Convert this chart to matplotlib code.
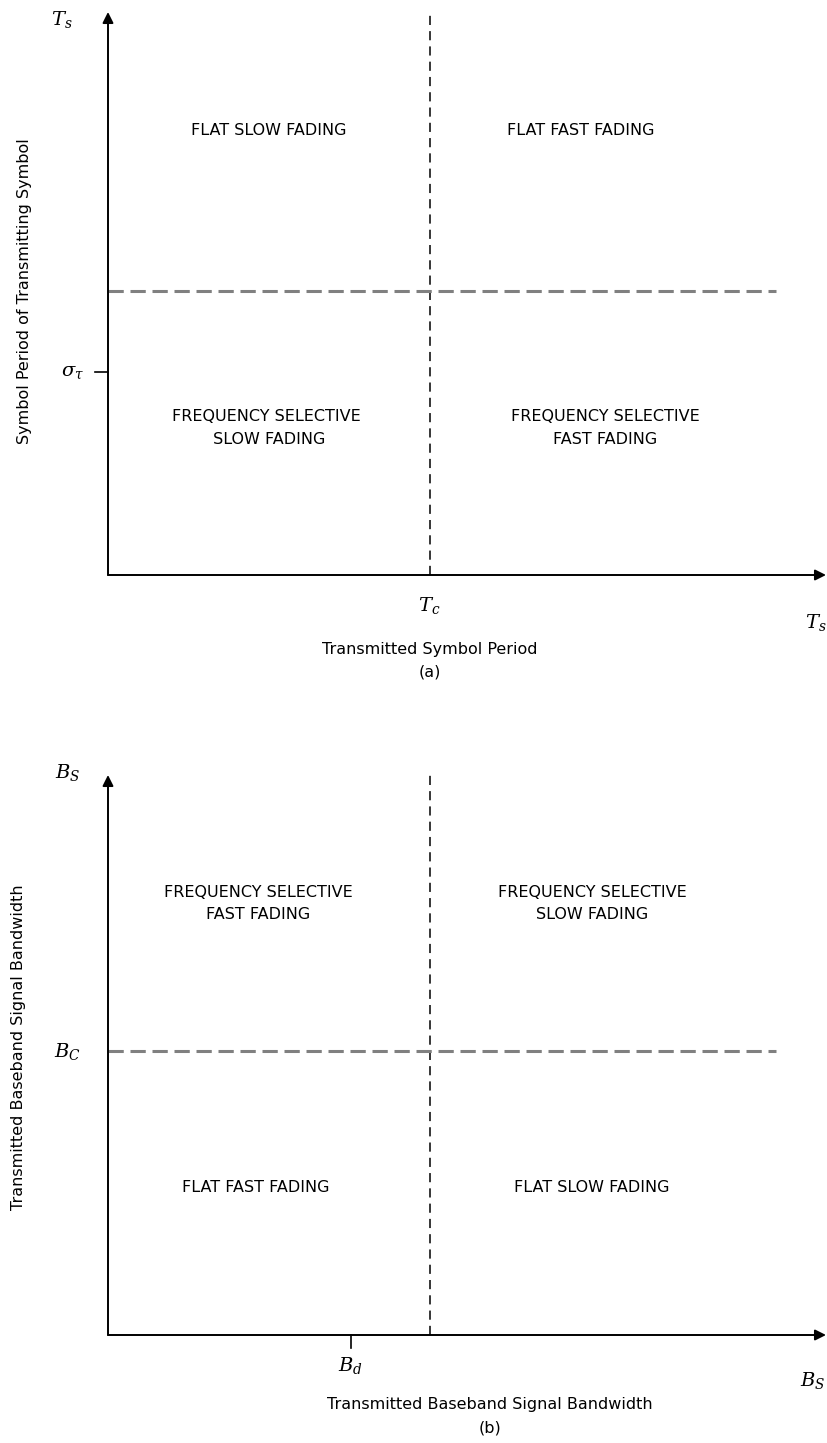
import matplotlib
matplotlib.use('Agg')
import matplotlib.pyplot as plt

plt.rcParams['font.family'] = ['DejaVu Sans']
plt.rcParams['mathtext.fontset'] = 'dejavuserif'

# region boundaries (axis units 0..10)
a_vline = 4.48
a_hline = 5.04
a_tick_y = 3.61
b_vline = 4.48
b_hline = 5.07
b_tick_x = 3.38

a_regions = ['FLAT SLOW FADING', 'FLAT FAST FADING',
             'FREQUENCY SELECTIVE\n SLOW FADING', 'FREQUENCY SELECTIVE\nFAST FADING']
a_region_xy = [(2.24, 7.9), (6.59, 7.9), (2.21, 2.61), (6.93, 2.61)]
b_regions = ['FREQUENCY SELECTIVE\nFAST FADING', 'FREQUENCY SELECTIVE\nSLOW FADING',
             'FLAT FAST FADING', 'FLAT SLOW FADING']
b_region_xy = [(2.09, 7.71), (6.74, 7.71), (2.06, 2.63), (6.74, 2.63)]

a_labels = dict(xlab='Transmitted Symbol Period', ylab='Symbol Period of Transmitting Symbol',
                tag='(a)', ytop=r'$T_s$', xend=r'$T_s$', vlab=r'$T_c$', tlab=r'$\sigma_\tau$')
b_labels = dict(xlab='Transmitted Baseband Signal Bandwidth', ylab='Transmitted Baseband Signal Bandwidth',
                tag='(b)', ytop=r'$B_S$', xend=r'$B_S$', hlab=r'$B_C$', tlab=r'$B_d$')

W, H = 827, 1443
fig = plt.figure(figsize=(W / 100, H / 100), dpi=100)


def fx(px):
    return px / W


def fy(py):
    return 1 - py / H


def axes_frame(ax):
    ax.set_xlim(0, 10)
    ax.set_ylim(0, 10)
    ax.axis('off')
    ax.annotate('', xy=(10, 0), xytext=(0, 0), annotation_clip=False,
                arrowprops=dict(arrowstyle='-|>', color='black', lw=1.4,
                                mutation_scale=16, shrinkA=0, shrinkB=0))
    ax.annotate('', xy=(0, 10), xytext=(0, 0), annotation_clip=False,
                arrowprops=dict(arrowstyle='-|>', color='black', lw=1.4,
                                mutation_scale=16, shrinkA=0, shrinkB=0))


# ---- panel (a)
axa = fig.add_axes([fx(108), fy(575), fx(826 - 108), (575 - 12) / H])
axes_frame(axa)
axa.plot([a_vline, a_vline], [0, 10], color='black', lw=1.1, ls=(0, (6, 4)), clip_on=False)
axa.plot([0, 9.3], [a_hline, a_hline], color='#808080', lw=2.2, ls=(0, (5, 2.2)), clip_on=False)
axa.plot([-0.18, 0], [a_tick_y, a_tick_y], color='black', lw=1.2, clip_on=False)
for t, (x, y) in zip(a_regions, a_region_xy):
    axa.text(x, y, t, ha='center', va='center', fontsize=11.5, linespacing=1.6)
axa.text(-0.64, 9.86, a_labels['ytop'], ha='center', va='center', fontsize=14)
axa.text(-0.5, a_tick_y, a_labels['tlab'], ha='center', va='center', fontsize=14)
axa.text(a_vline, -0.54, a_labels['vlab'], ha='center', va='center', fontsize=14)
axa.text(9.86, -0.84, a_labels['xend'], ha='center', va='center', fontsize=14)
axa.text(a_vline, -1.33, a_labels['xlab'], ha='center', va='center', fontsize=11.5)
axa.text(a_vline, -1.72, a_labels['tag'], ha='center', va='center', fontsize=11.5)
axa.text(-1.16, 5.04, a_labels['ylab'], ha='center', va='center', fontsize=11.5, rotation=90)

# ---- panel (b)
axb = fig.add_axes([fx(108), fy(1335), fx(826 - 108), (1335 - 775) / H])
axes_frame(axb)
axb.plot([b_vline, b_vline], [0, 10.09], color='black', lw=1.1, ls=(0, (6, 4)), clip_on=False)
axb.plot([0, 9.3], [b_hline, b_hline], color='#808080', lw=2.2, ls=(0, (5, 2.2)), clip_on=False)
axb.plot([b_tick_x, b_tick_x], [0, -0.23], color='black', lw=1.2, clip_on=False)
for t, (x, y) in zip(b_regions, b_region_xy):
    axb.text(x, y, t, ha='center', va='center', fontsize=11.5, linespacing=1.6)
axb.text(-0.56, 10.04, b_labels['ytop'], ha='center', va='center', fontsize=14)
axb.text(-0.56, b_hline, b_labels['hlab'], ha='center', va='center', fontsize=14)
axb.text(b_tick_x, -0.54, b_labels['tlab'], ha='center', va='center', fontsize=14)
axb.text(9.99, -0.81, b_labels['xend'], ha='right', va='center', fontsize=14)
axb.text(5.32, -1.25, b_labels['xlab'], ha='center', va='center', fontsize=11.5)
axb.text(5.32, -1.66, b_labels['tag'], ha='center', va='center', fontsize=11.5)
axb.text(-1.25, 5.14, b_labels['ylab'], ha='center', va='center', fontsize=11.5, rotation=90)

fig.savefig('out.png', dpi=100)
